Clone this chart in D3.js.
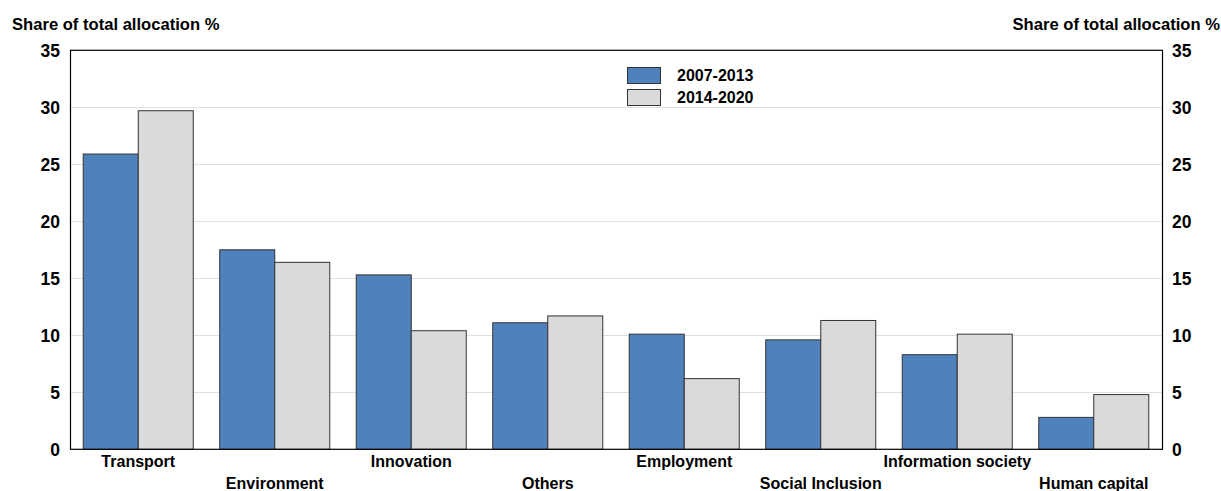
<!DOCTYPE html>
<html><head><meta charset="utf-8">
<script src="https://cdn.jsdelivr.net/npm/d3@7/dist/d3.min.js"></script>
<style>
body{margin:0;background:#fff;}
text{font-family:"Liberation Sans",Arial,sans-serif;font-weight:bold;fill:#000;}
</style></head>
<body>
<svg id="chart" width="1221" height="491"></svg>
<script>
const categories = ["Transport","Environment","Innovation","Others","Employment","Social Inclusion","Information society","Human capital"];
const seriesNames = ["2007-2013","2014-2020"];
const values2007 = [25.9,17.5,15.3,11.1,10.1,9.6,8.3,2.8];
const values2014 = [29.7,16.4,10.4,11.7,6.2,11.3,10.1,4.8];
const yTicks = [0,5,10,15,20,25,30,35];
const colors = ["#4f81bd","#dadada"];

const svg = d3.select("#chart");
const L=70, R=1162, T=50.3, B=449.3;
const x = d3.scaleBand().domain(categories).range([L,R]).paddingInner(0.194).paddingOuter(0.097);
const xs = d3.scaleBand().domain(seriesNames).range([0,x.bandwidth()]);
const y = d3.scaleLinear().domain([0,35]).range([B,T]);

// gridlines
svg.append("g").selectAll("line").data(yTicks.filter(d=>d>0&&d<35)).join("line")
  .attr("x1",L).attr("x2",R).attr("y1",d=>Math.round(y(d))+0.5).attr("y2",d=>Math.round(y(d))+0.5)
  .attr("stroke","#e0e0e0").attr("stroke-width",1);

// bars
const series = [values2007, values2014];
series.forEach((vals,si)=>{
  svg.append("g").selectAll("rect").data(categories).join("rect")
    .attr("x",(d)=>x(d)+xs(seriesNames[si]))
    .attr("width",xs.bandwidth())
    .attr("y",(d,i)=>y(vals[i]))
    .attr("height",(d,i)=>B-y(vals[i]))
    .attr("fill",colors[si]).attr("stroke","#333").attr("stroke-width",1);
});

// frame
svg.append("rect").attr("x",L+0.5).attr("y",T).attr("width",R-L).attr("height",B-T)
  .attr("fill","none").attr("stroke","#000").attr("stroke-width",1.2);

// axes
const yl = d3.axisLeft(y).tickValues(yTicks).tickSize(0).tickPadding(10);
const gl = svg.append("g").attr("transform",`translate(${L},0)`).call(yl);
gl.select(".domain").remove();
gl.selectAll("text").style("font-size","17.5px").attr("dy","0.36em");
const yr = d3.axisRight(y).tickValues(yTicks).tickSize(0).tickPadding(10);
const gr = svg.append("g").attr("transform",`translate(${R},0)`).call(yr);
gr.select(".domain").remove();
gr.selectAll("text").style("font-size","17.5px").attr("dy","0.36em");

// category labels
const xa = d3.axisBottom(x).tickSize(0).tickPadding(0);
const gx = svg.append("g").attr("transform",`translate(0,${B})`).call(xa);
gx.select(".domain").remove();
gx.selectAll("text").style("font-size","16px")
  .attr("y",(d,i)=>i%2===0?18:40).attr("dy","0");

// axis titles
svg.append("text").attr("x",12).attr("y",30).style("font-size","16.6px").text("Share of total allocation %");
svg.append("text").attr("x",1220).attr("y",30).attr("text-anchor","end").style("font-size","16.6px").text("Share of total allocation %");

// legend
const lg = svg.append("g");
seriesNames.forEach((s,i)=>{
  lg.append("rect").attr("x",627.5).attr("y",67.5+i*22).attr("width",33).attr("height",16)
    .attr("fill",colors[i]).attr("stroke","#333").attr("stroke-width",1);
  lg.append("text").attr("x",677).attr("y",81+i*22).style("font-size","16px").text(s);
});
</script>
</body></html>
